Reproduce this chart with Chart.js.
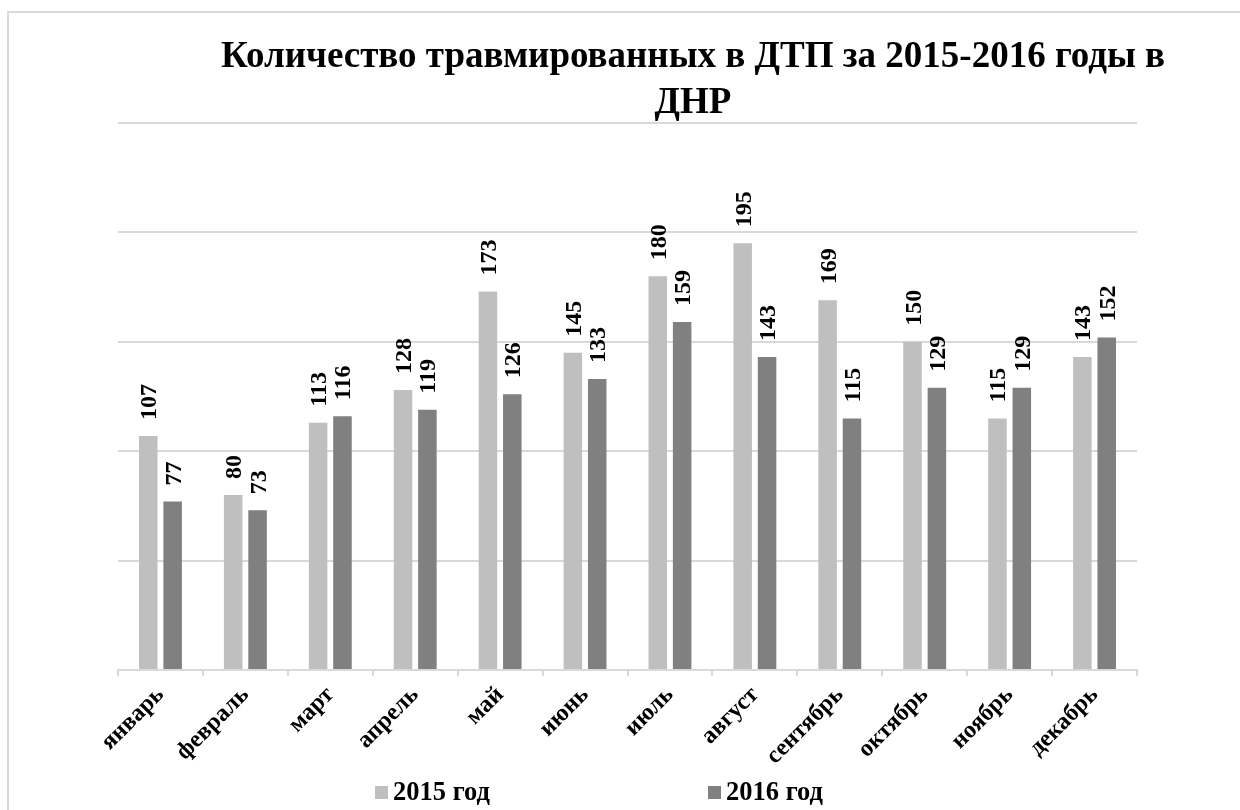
<!DOCTYPE html>
<html>
<head>
<meta charset="utf-8">
<script src="https://cdn.jsdelivr.net/npm/chart.js@4.4.1/dist/chart.umd.min.js"></script>
<style>
  html, body { margin:0; padding:0; background:#fff; }
  #wrap { position:relative; width:1240px; height:810px; overflow:hidden; background:#fff; }
  #frame { position:absolute; left:7px; top:11px; width:1300px; height:900px; border:2px solid #d9d9d9; box-sizing:border-box; }
  canvas { position:absolute; left:0; top:0; }
  .title { position:absolute; left:693px; transform:translateX(-50%); white-space:nowrap;
           font-family:"Liberation Serif","Times New Roman",serif; font-weight:bold; font-size:37px; color:#000; line-height:1; }
  .leg { position:absolute; top:778px; font-family:"Liberation Serif","Times New Roman",serif; font-weight:bold; font-size:26.5px; color:#000; white-space:nowrap; line-height:1; }
  .leg span.box { display:inline-block; width:13px; height:13px; margin-right:5px; vertical-align:1px; }
</style>
</head>
<body>
<div id="wrap">
  <div id="frame"></div>
  <canvas id="c" width="1240" height="810"></canvas>
  <div class="title" style="top:36px">Количество травмированных в ДТП за 2015-2016 годы в</div>
  <div class="title" style="top:82px">ДНР</div>
  <div class="leg" style="left:375px"><span class="box" style="background:#bfbfbf"></span>2015 год</div>
  <div class="leg" style="left:708px"><span class="box" style="background:#808080"></span>2016 год</div>
</div>
<script>
const months = ["январь","февраль","март","апрель","май","июнь","июль","август","сентябрь","октябрь","ноябрь","декабрь"];
const series2015 = [107, 80, 113, 128, 173, 145, 180, 195, 169, 150, 115, 143];
const series2016 = [77, 73, 116, 119, 126, 133, 159, 143, 115, 129, 129, 152];
const seriesNames = ["2015 год", "2016 год"];
const yMax = 250;
const yStep = 50;

const serif = '"Liberation Serif","Times New Roman",serif';

const valueLabels = {
  id: 'valueLabels',
  afterDatasetsDraw(chart) {
    const ctx = chart.ctx;
    ctx.save();
    ctx.font = 'bold 24px ' + serif;
    ctx.fillStyle = '#000';
    ctx.textAlign = 'left';
    ctx.textBaseline = 'alphabetic';
    chart.data.datasets.forEach((ds, di) => {
      const meta = chart.getDatasetMeta(di);
      meta.data.forEach((bar, i) => {
        const v = ds.data[i];
        ctx.save();
        ctx.translate(bar.x + 8, bar.y - 16);
        ctx.rotate(-Math.PI / 2);
        ctx.fillText(String(v), 0, 0);
        ctx.restore();
      });
    });
    ctx.restore();
  }
};

new Chart(document.getElementById('c'), {
  type: 'bar',
  data: {
    labels: months,
    datasets: [
      { label: seriesNames[0], data: series2015, backgroundColor: '#bfbfbf', borderWidth: 0 },
      { label: seriesNames[1], data: series2016, backgroundColor: '#808080', borderWidth: 0 }
    ]
  },
  options: {
    responsive: false,
    animation: false,
    events: [],
    layout: { padding: { left: 118, right: 103, top: 123, bottom: 0 } },
    datasets: { bar: { categoryPercentage: 0.574, barPercentage: 0.76 } },
    plugins: { legend: { display: false }, title: { display: false }, tooltip: { enabled: false } },
    scales: {
      x: {
        grid: { display: true, drawOnChartArea: false, drawTicks: true, tickLength: 6, color: '#d9d9d9', lineWidth: 2, offset: true },
        border: { display: true, color: '#d9d9d9', width: 2 },
        ticks: { color: '#000', font: { family: serif, size: 24, weight: 'bold' }, maxRotation: 45, minRotation: 45, padding: 5 },
        afterFit(scale) { scale.height = 140; }
      },
      y: {
        min: 0, max: yMax,
        ticks: { display: false, stepSize: yStep },
        grid: { color: '#d9d9d9', lineWidth: 2, drawTicks: false },
        border: { display: false },
        afterFit(scale) { scale.width = 0; }
      }
    }
  },
  plugins: [valueLabels]
});
</script>
</body>
</html>
